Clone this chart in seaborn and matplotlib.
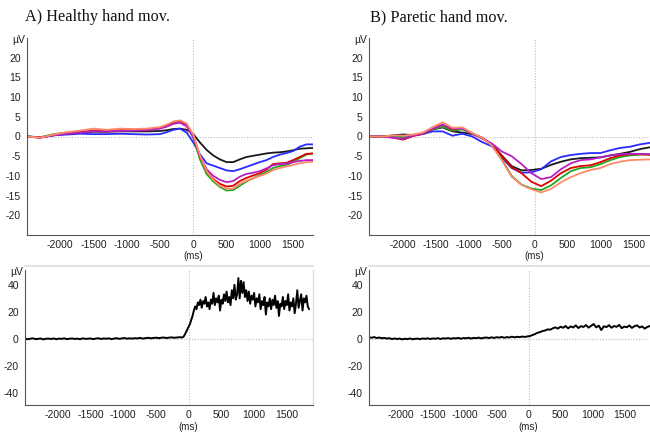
import numpy as np
import pandas as pd
import matplotlib
matplotlib.use("Agg")
import matplotlib.pyplot as plt
from matplotlib.ticker import MultipleLocator
import seaborn as sns

# ---------------- data ----------------
channels = ["black", "blue", "green", "red", "magenta", "salmon"]
channel_colors = ["#1a1a1a", "#2a2aff", "#1fa81f", "#e00000", "#b61fc8", "#ff8a6a"]

# A) healthy hand – ERP (µV) vs time (ms)
t_a = [-2500, -2300, -2100, -1900, -1700, -1500, -1300, -1100, -900, -700, -500, -400, -300, -200, -100,
       0, 100, 200, 300, 400, 500, 600, 700, 800, 900, 1000, 1100, 1200, 1300, 1400, 1500, 1600, 1700, 1800]
a_black = [0, -0.2, 0.3, 0.7, 1.0, 1.2, 1.2, 1.3, 1.3, 1.3, 1.4, 1.6, 1.9, 2.0, 1.7,
           0.6, -1.5, -3.4, -4.8, -5.8, -6.5, -6.5, -5.8, -5.2, -4.9, -4.6, -4.3, -4.1, -4.0, -3.8, -3.5, -3.1, -3.0, -2.9]
a_blue = [0, -0.2, 0.3, 0.5, 0.7, 0.6, 0.6, 0.7, 0.6, 0.5, 0.6, 1.1, 1.7, 2.0, 1.0,
          -1.5, -4.5, -6.8, -7.4, -8.0, -8.6, -8.8, -8.3, -7.7, -7.1, -6.5, -6.0, -5.2, -4.6, -4.2, -3.7, -2.6, -2.0, -2.0]
a_green = [0, -0.2, 0.6, 1.0, 1.2, 1.3, 1.4, 1.5, 1.6, 1.8, 2.2, 2.6, 3.4, 3.7, 2.8,
           -0.3, -5.8, -9.5, -11.4, -12.8, -13.7, -13.6, -12.5, -11.4, -10.6, -9.8, -9.0, -8.0, -7.5, -7.2, -6.5, -5.5, -4.6, -4.3]
a_red = [0, -0.3, 0.4, 0.8, 1.1, 1.5, 1.3, 1.6, 1.6, 1.7, 2.1, 2.7, 3.7, 4.0, 3.0,
         0.2, -5.0, -8.8, -10.8, -12.0, -12.7, -12.5, -11.3, -10.5, -9.9, -9.3, -8.4, -7.0, -6.8, -6.7, -6.0, -5.2, -4.4, -4.3]
a_magenta = [0, -0.3, 0.3, 0.7, 1.0, 1.3, 1.3, 1.4, 1.5, 1.6, 2.0, 2.5, 3.2, 3.5, 2.6,
             -0.2, -5.0, -8.3, -10.0, -11.0, -11.6, -11.3, -10.2, -9.5, -9.2, -8.8, -8.1, -7.3, -7.0, -6.9, -6.5, -6.2, -6.0, -6.0]
a_salmon = [0, -0.3, 0.5, 1.1, 1.5, 2.0, 1.7, 2.0, 1.9, 2.0, 2.4, 3.0, 3.8, 4.1, 3.3,
            0.5, -4.8, -8.8, -11.0, -12.5, -13.3, -13.2, -12.0, -11.2, -10.6, -10.0, -9.4, -8.5, -8.0, -7.6, -7.2, -6.8, -6.5, -6.4]

# B) paretic hand – ERP (µV) vs time (ms)
t_b = [-2500, -2300, -2150, -2000, -1850, -1700, -1550, -1400, -1250, -1100, -950, -800, -650, -500, -350,
       -200, -50, 100, 250, 400, 550, 700, 850, 1000, 1150, 1300, 1450, 1600, 1800]
b_black = [0, 0, 0.3, 0.5, 0.4, 0.7, 1.8, 2.3, 1.3, 1.0, 0.6, -0.3, -2.0, -4.8, -7.5,
           -8.6, -8.5, -8.2, -7.2, -6.4, -5.8, -5.5, -5.4, -5.3, -4.8, -4.4, -3.9, -3.2, -2.6]
b_blue = [0, 0, 0.2, 0.2, 0.3, 0.6, 1.3, 1.3, 0.2, 0.7, 0.0, -1.4, -2.5, -5.3, -8.0,
          -9.2, -9.1, -8.3, -6.3, -5.2, -4.7, -4.4, -4.2, -4.2, -3.5, -2.9, -2.6, -2.0, -1.5]
b_green = [0, 0, 0.2, -0.3, 0.3, 0.7, 1.8, 2.5, 1.5, 1.8, 0.7, -0.3, -2.2, -5.8, -10.0,
           -12.2, -13.2, -13.6, -12.4, -10.5, -8.8, -8.0, -7.8, -7.0, -6.0, -5.2, -4.8, -4.6, -4.5]
b_red = [0, 0, -0.3, -0.8, 0.1, 0.7, 2.0, 3.0, 1.8, 2.2, 0.8, -0.4, -2.0, -5.0, -7.8,
         -9.3, -11.5, -12.6, -11.2, -9.3, -8.0, -7.5, -7.3, -6.5, -5.5, -4.8, -4.5, -4.5, -4.7]
b_magenta = [0, 0, -0.3, -0.6, 0.2, 0.8, 2.0, 3.0, 2.0, 2.0, 0.8, -0.5, -1.8, -3.8, -5.0,
             -7.0, -9.3, -10.8, -10.3, -8.3, -6.8, -6.0, -5.8, -5.3, -4.8, -4.5, -4.4, -4.4, -4.5]
b_salmon = [0, 0, 0.3, 0.2, 0.5, 1.0, 2.4, 3.6, 2.2, 2.3, 0.9, -0.3, -2.3, -6.0, -10.2,
            -12.3, -13.4, -14.2, -13.3, -11.6, -10.3, -9.3, -8.5, -8.0, -7.0, -6.4, -6.0, -5.9, -5.8]

# C) healthy hand – rectified EMG (µV); baseline sampled every 40 ms, burst every 20 ms
emg_a_base_start, emg_a_base_step = -2500, 40
emg_a_base = [0.2, -0.3, 0.1, 0.4, -0.2, 0.0, 0.3, -0.4, 0.1, 0.2, -0.1, 0.3, -0.3, 0.2, 0.0, 0.4, -0.2, 0.1, 0.3, -0.1,
              0.2, -0.3, 0.4, 0.0, 0.1, 0.3, -0.2, 0.2, 0.5, -0.1, 0.3, 0.1, 0.4, -0.2, 0.2, 0.5, 0.0, 0.3, 0.6, 0.1,
              0.4, 0.2, 0.5, 0.3, 0.7, 0.2, 0.5, 0.8, 0.4, 0.6, 0.9, 0.5, 0.8, 1.0, 0.6, 0.9, 1.1, 0.8, 1.0, 1.2]
emg_a_burst_start, emg_a_burst_step = -100, 20
emg_a_burst = [1, 1.5, 3, 5, 7, 9, 11, 14, 17, 21, 24, 22, 27, 25, 29, 23, 28, 26, 31, 24,
               27, 22, 29, 26, 34, 25, 30, 27, 32, 21, 29, 26, 33, 28, 35, 27, 31, 25, 36, 30,
               40, 29, 33, 45, 30, 43, 34, 42, 31, 36, 28, 35, 26, 32, 29, 34, 24, 30, 27, 33,
               22, 28, 25, 31, 18, 27, 24, 30, 22, 29, 25, 32, 23, 28, 17, 26, 24, 31, 22, 28,
               25, 33, 21, 27, 24, 30, 19, 26, 36, 23, 28, 33, 21, 30, 27, 32, 24, 22]

# D) paretic hand – rectified EMG (µV), sampled every 40 ms
emg_b_start, emg_b_step = -2500, 40
emg_b = [1.2, 0.8, 1.3, 0.6, 1.0, 0.4, 0.7, 0.2, 0.5, -0.2, 0.3, -0.1, 0.2, -0.4, 0.1, -0.2, 0.3, -0.3, 0.0, 0.2,
         -0.2, 0.3, 0.0, 0.4, -0.1, 0.3, 0.1, 0.5, -0.1, 0.4, 0.2, 0.6, 0.0, 0.5, 0.3, 0.7, 0.1, 0.6, 0.4, 0.8,
         0.2, 0.7, 0.5, 0.9, 0.3, 0.8, 1.0, 0.6, 1.1, 0.7, 1.2, 0.9, 1.4, 0.8, 1.3, 1.0, 1.6, 1.1, 1.5, 1.3,
         1.7, 1.4, 1.8,
         2.0, 2.8, 3.5, 4.5, 5.0, 5.8, 6.2, 7.0, 6.8, 7.8, 8.5, 7.6, 9.0, 8.2, 9.5, 7.8, 9.2, 8.4, 10.0, 8.0,
         9.4, 8.8, 10.2, 8.3, 9.6, 11.0, 8.5, 9.8, 6.5, 9.3, 8.7, 10.1, 8.2, 9.5, 8.9, 10.3, 7.9, 9.1, 8.6, 9.9,
         8.1, 9.4, 10.0, 8.4, 9.2, 7.6, 8.8, 9.5]

titles = ["A) Healthy hand mov.", "B) Paretic hand mov."]
xticks = [-2000, -1500, -1000, -500, 0, 500, 1000, 1500]
erp_yticks = [-20, -15, -10, -5, 0, 5, 10, 15, 20]
emg_yticks = [-40, -20, 0, 20, 40]

# ---------------- tables ----------------
def erp_frame(t, series):
    rows = []
    for name, vals in zip(channels, series):
        rows.append(pd.DataFrame({"t": t, "v": vals, "ch": name}))
    return pd.concat(rows, ignore_index=True)

df_a = erp_frame(t_a, [a_black, a_blue, a_green, a_red, a_magenta, a_salmon])
df_b = erp_frame(t_b, [b_black, b_blue, b_green, b_red, b_magenta, b_salmon])

t_c = np.concatenate([emg_a_base_start + emg_a_base_step * np.arange(len(emg_a_base)),
                      emg_a_burst_start + emg_a_burst_step * np.arange(len(emg_a_burst))])
df_c = pd.DataFrame({"t": t_c, "v": emg_a_base + emg_a_burst})
df_d = pd.DataFrame({"t": emg_b_start + emg_b_step * np.arange(len(emg_b)), "v": emg_b})

# ---------------- style ----------------
sns.set_style("white")
plt.rcParams["font.family"] = ["Liberation Sans", "DejaVu Sans"]
plt.rcParams["axes.unicode_minus"] = False

W, H = 650, 433
fig = plt.figure(figsize=(W / 100, H / 100), dpi=100)

def pos(l, t, r, b):
    return [l / W, 1 - b / H, (r - l) / W, (b - t) / H]

ax_a = fig.add_axes(pos(27, 38, 313, 235))
ax_b = fig.add_axes(pos(369, 38, 653, 235))
ax_c = fig.add_axes(pos(25, 270, 313, 405))
ax_d = fig.add_axes(pos(369, 270, 653, 405))

palette = dict(zip(channels, channel_colors))
for ax, df in [(ax_a, df_a), (ax_b, df_b)]:
    sns.lineplot(data=df, x="t", y="v", hue="ch", palette=palette, hue_order=channels,
                 estimator=None, sort=False, lw=1.3, legend=False, ax=ax)
for ax, df in [(ax_c, df_c), (ax_d, df_d)]:
    sns.lineplot(data=df, x="t", y="v", color="black", estimator=None, sort=False,
                 lw=1.4, legend=False, ax=ax)

ax_a.set_xlim(-2500, 1800); ax_b.set_xlim(-2520, 1800)
ax_c.set_xlim(-2500, 1900); ax_d.set_xlim(-2500, 1950)
ax_a.set_ylim(-25, 25); ax_b.set_ylim(-25, 25)
ax_c.set_ylim(-49, 51); ax_d.set_ylim(-49, 51)

for ax, yt, ymin in [(ax_a, erp_yticks, 1), (ax_b, erp_yticks, 1),
                     (ax_c, emg_yticks, 5), (ax_d, emg_yticks, 5)]:
    ax.set_xlabel(""); ax.set_ylabel("")
    ax.set_xticks(xticks)
    ax.set_xticklabels([str(v) for v in xticks])
    ax.set_yticks(yt)
    ax.set_yticklabels([str(v) for v in yt])
    ax.xaxis.set_minor_locator(MultipleLocator(100))
    ax.yaxis.set_minor_locator(MultipleLocator(ymin))
    ax.tick_params(axis="both", which="major", length=3, width=0.7, color="#555555",
                   labelsize=7.5, labelcolor="#222222", direction="out")
    ax.tick_params(axis="x", which="major", pad=0.8)
    ax.tick_params(axis="y", which="major", pad=1.5)
    ax.tick_params(axis="both", which="minor", length=1.6, width=0.6, color="#777777", direction="out")
    for s in ["top", "right"]:
        ax.spines[s].set_visible(False)
    for s in ["left", "bottom"]:
        ax.spines[s].set_color("#555555")
        ax.spines[s].set_linewidth(0.8)
    ax.axhline(0, color="#bbbbbb", lw=0.8, ls=(0, (1, 1.5)), zorder=0)
    ax.axvline(0, color="#bbbbbb", lw=0.8, ls=(0, (1, 1.5)), zorder=0)
    ax.annotate("µV", xy=(0, 1), xycoords="axes fraction", xytext=(-2, -2),
                textcoords="offset pixels", ha="right", va="center", fontsize=7.5, color="#222222")
    ax.set_facecolor("white")

# (ms) labels under x = 0
for ax, off in [(ax_a, -21), (ax_b, -21), (ax_c, -21.5), (ax_d, -21.5)]:
    ax.annotate("(ms)", xy=(0, 0), xycoords=("data", "axes fraction"), xytext=(0, off),
                textcoords="offset pixels", ha="center", va="center", fontsize=7, color="#222222")

# faint frame lines on the lower panels
for ax in [ax_c, ax_d]:
    ax.spines["top"].set_visible(True)
    ax.spines["top"].set_color("#dddddd")
    ax.spines["top"].set_linewidth(1.2)
    ax.spines["top"].set_position(("outward", 3))
ax_c.spines["right"].set_visible(True)
ax_c.spines["right"].set_color("#dddddd")
ax_c.spines["right"].set_linewidth(1.0)

# titles
fig.text(25 / W, 1 - 17 / H, titles[0], family=["Liberation Serif", "DejaVu Serif"],
         fontsize=11.7, ha="left", va="center", color="#111111")
fig.text(370 / W, 1 - 17 / H, titles[1], family=["Liberation Serif", "DejaVu Serif"],
         fontsize=11.7, ha="left", va="center", color="#111111")

fig.savefig("out.png", dpi=100, facecolor="white")
